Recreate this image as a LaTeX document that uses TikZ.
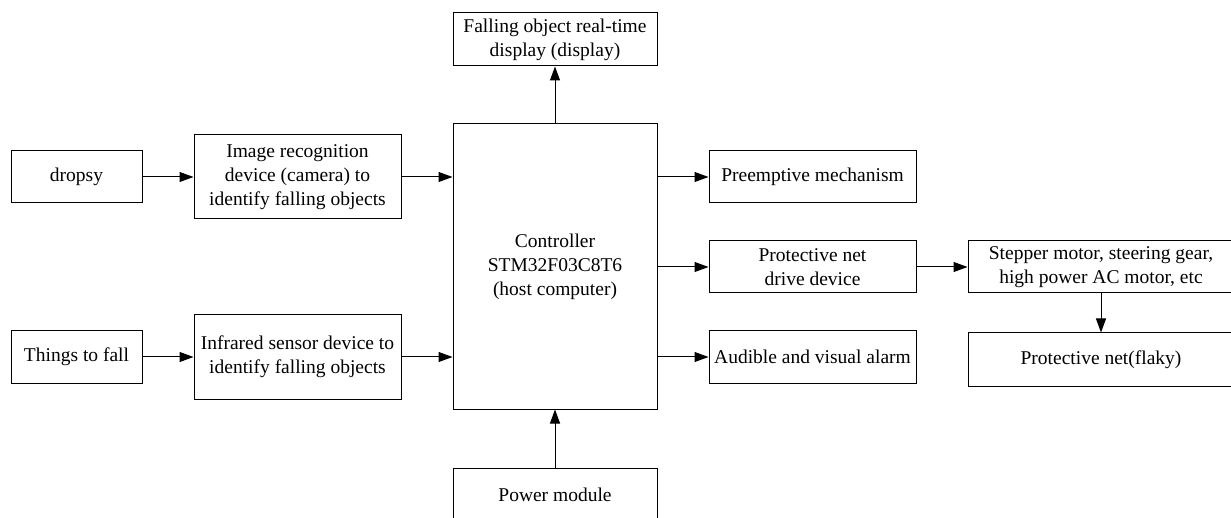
\documentclass[tikz,border=0pt]{standalone}
\usepackage{fontspec}
\setmainfont{Liberation Serif}
\usetikzlibrary{arrows.meta,calc}
\begin{document}
\begin{tikzpicture}[x=1pt,y=-1pt,
  box/.style={draw,line width=1pt,align=center,inner sep=0pt,font=\fontsize{19.5}{24}\selectfont},
  arr/.style={line width=1pt,-{Triangle[length=14pt,width=10pt]}}]
\useasboundingbox (0,0) rectangle (1231,518);
\node[box,minimum width=131,minimum height=52] (dropsy) at (76.5,177) {dropsy};
\node[box,minimum width=207,minimum height=84] (img) at (297.5,177) {Image recognition\\device (camera) to\\identify falling objects};
\node[box,minimum width=131,minimum height=52] (things) at (76.5,357) {Things to fall};
\node[box,minimum width=207,minimum height=84] (ir) at (297.5,357) {Infrared sensor device to\\identify falling objects};
\node[box,minimum width=204,minimum height=285] (ctrl) at (555,266.5) {Controller\\STM32F03C8T6\\(host computer)};
\node[box,minimum width=204,minimum height=53] (disp) at (555,39.5) {Falling object real-time\\display (display)};
\node[box,minimum width=207,minimum height=52] (pre) at (812.5,177) {Preemptive mechanism};
\node[box,minimum width=207,minimum height=52] (drive) at (812.5,267) {Protective net\\drive device};
\node[box,minimum width=207,minimum height=52] (alarm) at (812.5,357) {Audible and visual alarm};
\node[box,minimum width=266,minimum height=52] (step) at (1101,267) {Stepper motor, steering gear,\\high power AC motor, etc};
\node[box,minimum width=266,minimum height=53] (pnet) at (1101,359.5) {Protective net(flaky)};
\node[box,minimum width=204,minimum height=53] (power) at (555,494.5) {Power module};
\draw[arr] (dropsy.east) -- (img.west);
\draw[arr] (things.east) -- (ir.west);
\draw[arr] (img.east) -- (img.east -| ctrl.west);
\draw[arr] (ir.east) -- (ir.east -| ctrl.west);
\draw[arr] (ctrl.north) -- (disp.south);
\draw[arr] (power.north) -- (ctrl.south);
\draw[arr] (pre.west -| ctrl.east) -- (pre.west);
\draw[arr] (drive.west -| ctrl.east) -- (drive.west);
\draw[arr] (alarm.west -| ctrl.east) -- (alarm.west);
\draw[arr] (drive.east) -- (step.west);
\draw[arr] (step.south) -- (pnet.north);
\end{tikzpicture}
\end{document}
